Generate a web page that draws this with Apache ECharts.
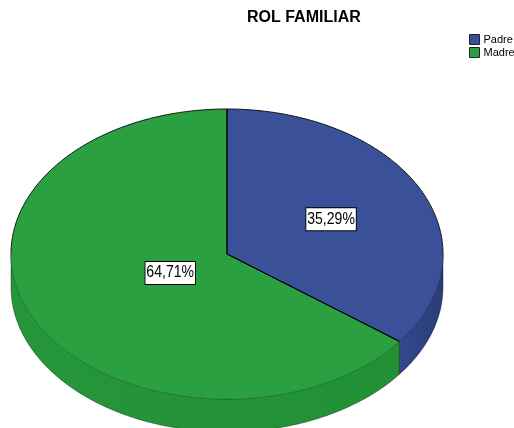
<!DOCTYPE html>
<html>
<head>
<meta charset="utf-8">
<script src="https://cdn.jsdelivr.net/npm/echarts@6/dist/echarts.min.js"></script>
<style>
html,body{margin:0;padding:0;background:#fff;}
#chart{width:514px;height:428px;}
</style>
</head>
<body>
<div id="chart"></div>
<script>
// ---- data ----
const chartTitle = 'ROL FAMILIAR';
const categories = ['Padre', 'Madre'];
const percentages = [35.29, 64.71];

// ---- layout / style (not data) ----
const CX = 227, CY = 254, RX = 216, RY = 145, DEPTH = 33;
const topColors = ['#3A5099', '#2BA041'];
const edgeColors = ['#25356A', '#1B7A2E'];
const wallColors = [['#34488C', '#2A3C78'], ['#26963B', '#229035']];

const total = percentages.reduce((a, b) => a + b, 0);
function fmt(v) { return v.toFixed(2).replace('.', ',') + '%'; }
function P(t, dy) { return [CX + RX * Math.sin(t), CY - RY * Math.cos(t) + (dy || 0)]; }
function arc(a, b, dy) {
  const pts = [];
  const n = Math.max(2, Math.ceil(Math.abs(b - a) / (Math.PI / 360)));
  for (let i = 0; i <= n; i++) pts.push(P(a + (b - a) * i / n, dy));
  return pts;
}
// split [a,b] into back and front ranges
function ranges(a, b) {
  const cuts = [Math.PI / 2, 3 * Math.PI / 2];
  const pts = [a];
  cuts.forEach(c => { if (c > a && c < b) pts.push(c); });
  pts.push(b);
  const out = [];
  for (let k = 0; k < pts.length - 1; k++) {
    const m = (pts[k] + pts[k + 1]) / 2;
    out.push({ a: pts[k], b: pts[k + 1], front: Math.cos(m) < 0 });
  }
  return out;
}

function renderItem(params, api) {
  const i = params.dataIndex;
  let start = 0;
  for (let k = 0; k < i; k++) start += percentages[k];
  const a = start / total * 2 * Math.PI;
  const b = (start + api.value(0)) / total * 2 * Math.PI;
  const children = [];
  const s = Math.max(a, Math.PI / 2), e = Math.min(b, 3 * Math.PI / 2);
  if (e > s) {
    const pts = arc(s, e, 0).concat(arc(e, s, DEPTH));
    children.push({
      type: 'polygon', z2: 1,
      shape: { points: pts },
      style: {
        fill: new echarts.graphic.LinearGradient(0, 0, 1, 0, [
          { offset: 0, color: wallColors[i][0] }, { offset: 1, color: wallColors[i][1] }
        ]),
        stroke: 'rgba(0,0,0,0.45)', lineWidth: 0.8
      }
    });
  }
  children.push({
    type: 'polygon', z2: 10,
    shape: { points: [[CX, CY]].concat(arc(a, b, 0)) },
    style: { fill: topColors[i], stroke: null }
  });
  ranges(a, b).forEach(r => {
    children.push({
      type: 'polyline', z2: 11,
      shape: { points: arc(r.a, r.b, 0) },
      style: { fill: null, stroke: r.front ? edgeColors[i] : '#111', lineWidth: r.front ? 0.8 : 1 }
    });
  });
  children.push({
    type: 'polyline', z2: 12,
    shape: { points: [P(a), [CX, CY], P(b)] },
    style: { fill: null, stroke: '#000', lineWidth: 1 }
  });
  const alpha = b - a, mid = (a + b) / 2;
  const d = 4 * Math.sin(alpha / 2) / (3 * alpha);
  const lp = [CX + RX * d * Math.sin(mid), CY - RY * d * Math.cos(mid)];
  children.push({
    type: 'text', z2: 20,
    x: lp[0], y: lp[1], scaleX: 0.88,
    style: {
      text: fmt(api.value(0)),
      x: 0, y: 0,
      align: 'center', verticalAlign: 'middle',
      fill: '#000',
      font: '16px "Liberation Sans", Arial, sans-serif',
      backgroundColor: '#fff', borderColor: '#000', borderWidth: 1,
      padding: [3, 1]
    }
  });
  return { type: 'group', children: children };
}

const chart = echarts.init(document.getElementById('chart'), null, { renderer: 'canvas' });
chart.setOption({
  backgroundColor: '#fff',
  animation: false,
  title: {
    text: chartTitle, left: 247, top: 10, padding: 0,
    textStyle: { fontFamily: '"Liberation Sans", Arial, sans-serif', fontSize: 16, fontWeight: 'bold', color: '#000' }
  },
  legend: {
    orient: 'vertical', left: 469, top: 34, padding: 0,
    itemWidth: 10, itemHeight: 10, itemGap: 2, icon: 'rect',
    selectedMode: false,
    textStyle: { fontFamily: '"Liberation Sans", Arial, sans-serif', fontSize: 11, color: '#000', padding: [0, 0, 0, -1] },
    data: categories.map((c, i) => ({ name: c, itemStyle: { color: topColors[i], borderColor: '#222', borderWidth: 1 } }))
  },
  series: [
    {
      type: 'custom', name: chartTitle, coordinateSystem: 'none',
      renderItem: renderItem,
      data: percentages.map((v, i) => ({ name: categories[i], value: [v] }))
    }
  ].concat(categories.map((c, i) => ({ type: 'custom', name: c, coordinateSystem: 'none', color: topColors[i], renderItem: () => null, data: [] })))
});
</script>
</body>
</html>
